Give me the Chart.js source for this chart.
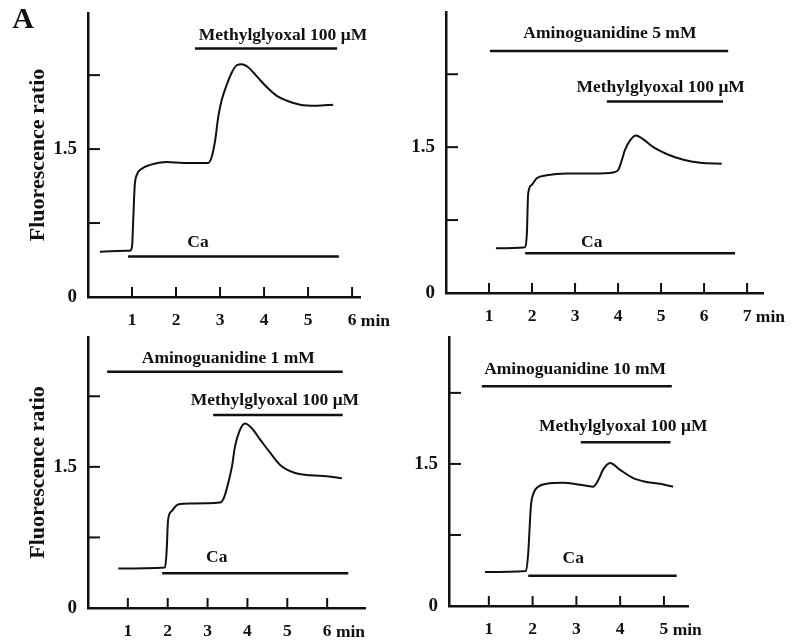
<!DOCTYPE html>
<html>
<head>
<meta charset="utf-8">
<script src="https://cdn.jsdelivr.net/npm/chart.js@4"></script>
<style>
  html, body { margin: 0; padding: 0; background: #fff; }
  #page { position: relative; width: 799px; height: 641px; overflow: hidden; }
  .panel { position: absolute; }
</style>
</head>
<body>
<div id="page">
  <div class="panel" style="left:0;top:0;width:400px;height:340px"><canvas id="c1"></canvas></div>
  <div class="panel" style="left:400px;top:0;width:399px;height:340px"><canvas id="c2"></canvas></div>
  <div class="panel" style="left:0;top:320px;width:400px;height:321px"><canvas id="c3"></canvas></div>
  <div class="panel" style="left:400px;top:320px;width:399px;height:321px"><canvas id="c4"></canvas></div>
</div>
<script>
// traces (time in min, fluorescence ratio)
const time1 = [0.27, 0.95, 1.0, 1.03, 1.06, 1.11, 1.22, 1.41, 1.79, 2.17, 2.55, 2.73, 2.81, 2.89, 2.96, 3.04, 3.15, 3.27, 3.38, 3.49, 3.64, 3.83, 4.06, 4.29, 4.52, 4.82, 5.2, 5.57]
const ratio1 = [0.46, 0.47, 0.51, 0.81, 1.12, 1.24, 1.30, 1.34, 1.37, 1.36, 1.36, 1.36, 1.42, 1.59, 1.83, 2.00, 2.15, 2.28, 2.35, 2.36, 2.33, 2.24, 2.13, 2.04, 1.99, 1.95, 1.94, 1.95]

const time2 = [1.16, 1.84, 1.88, 1.91, 1.99, 2.11, 2.34, 2.81, 3.43, 3.89, 4.01, 4.09, 4.16, 4.28, 4.42, 4.59, 4.82, 5.13, 5.52, 5.91, 6.41]
const ratio2 = [0.46, 0.47, 0.61, 1.02, 1.11, 1.18, 1.21, 1.23, 1.23, 1.24, 1.27, 1.37, 1.47, 1.57, 1.62, 1.58, 1.50, 1.43, 1.37, 1.34, 1.33]

const time3 = [0.76, 1.93, 1.97, 2.01, 2.10, 2.26, 2.55, 3.31, 3.41, 3.52, 3.61, 3.69, 3.80, 3.94, 4.11, 4.32, 4.57, 4.82, 5.16, 5.57, 5.99, 6.37]
const ratio3 = [0.42, 0.43, 0.58, 0.94, 1.03, 1.10, 1.11, 1.12, 1.17, 1.33, 1.50, 1.72, 1.88, 1.96, 1.91, 1.79, 1.65, 1.52, 1.44, 1.41, 1.40, 1.38]

const time4 = [0.91, 1.85, 1.90, 1.96, 2.02, 2.13, 2.32, 2.70, 3.08, 3.38, 3.50, 3.61, 3.77, 3.99, 4.30, 4.60, 4.91, 5.21]
const ratio4 = [0.36, 0.37, 0.56, 1.05, 1.19, 1.26, 1.29, 1.30, 1.28, 1.26, 1.33, 1.44, 1.51, 1.44, 1.35, 1.31, 1.29, 1.26]

// application bars: name, start/end (min), level on the ratio axis
const barNames1 = ['Methylglyoxal 100 μM', 'Ca']
const barStart1 = [2.43, 0.91]
const barEnd1 = [5.66, 5.70]
const barLevel1 = [2.52, 0.41]

const barNames2 = ['Aminoguanidine 5 mM', 'Methylglyoxal 100 μM', 'Ca']
const barStart2 = [1.02, 3.74, 1.84]
const barEnd2 = [6.56, 6.44, 6.72]
const barLevel2 = [2.49, 1.97, 0.41]

const barNames3 = ['Aminoguanidine 1 mM', 'Methylglyoxal 100 μM', 'Ca']
const barStart3 = [0.48, 3.14, 1.86]
const barEnd3 = [6.39, 6.39, 6.53]
const barLevel3 = [2.51, 2.05, 0.37]

const barNames4 = ['Aminoguanidine 10 mM', 'Methylglyoxal 100 μM', 'Ca']
const barStart4 = [0.84, 3.10, 1.90]
const barEnd4 = [5.18, 5.15, 5.29]
const barLevel4 = [2.32, 1.73, 0.32]

// ticks
const xTicks1 = [1, 2, 3, 4, 5, 6]
const xTicks2 = [1, 2, 3, 4, 5, 6, 7]
const xTicks3 = [1, 2, 3, 4, 5, 6]
const xTicks4 = [1, 2, 3, 4, 5]
const yTicks = [0, 0.75, 1.5, 2.25]
const yLabels = ['0', '', '1.5', '']

const INK = '#111'
const SERIF = '"Liberation Serif", "DejaVu Serif", serif'

// draws inward tick marks, the unit after the last x label and the bar captions
const ink = {
    id: 'ink',
    afterDraw(chart, args, opts) {
        const ctx = chart.ctx
        const a = chart.chartArea
        const x = chart.scales.x, y = chart.scales.y
        ctx.save()
        ctx.strokeStyle = INK
        ctx.lineWidth = 2
        x.ticks.forEach(t => {
            const px = x.getPixelForValue(t.value)
            ctx.beginPath(); ctx.moveTo(px, a.bottom); ctx.lineTo(px, a.bottom - 10); ctx.stroke()
        })
        y.ticks.forEach(t => {
            if (t.value === 0) return
            const py = y.getPixelForValue(t.value)
            ctx.beginPath(); ctx.moveTo(a.left, py); ctx.lineTo(a.left + 12, py); ctx.stroke()
        })
        ctx.fillStyle = INK
        ctx.font = 'bold 17.5px ' + SERIF
        ctx.textBaseline = 'middle'
        // "min" after the last tick label
        const last = x.ticks[x.ticks.length - 1]
        const lx = x.getPixelForValue(last.value) + ctx.measureText(String(last.value)).width / 2 + ctx.measureText(' ').width
        ctx.textAlign = 'left'
        ctx.fillText('min', lx, a.bottom + opts.unitDy)
        ctx.textAlign = 'center'
        opts.captions.forEach((c, i) => {
            ctx.fillText(opts.names[i], x.getPixelForValue(c[0]), y.getPixelForValue(c[1]))
        })
        if (opts.letter) {
            ctx.font = 'bold 30px ' + SERIF
            ctx.fillText(opts.letter, 23, 20)
        }
        ctx.restore()
    }
}

function makePanel(id, p) {
    const datasets = [{
        data: p.time.map((t, i) => ({ x: t, y: p.ratio[i] })),
        borderColor: INK,
        borderWidth: 2,
        pointRadius: 0,
        cubicInterpolationMode: 'monotone',
        fill: false
    }]
    p.names.forEach((n, i) => {
        datasets.push({
            data: [{ x: p.start[i], y: p.level[i] }, { x: p.end[i], y: p.level[i] }],
            borderColor: INK,
            borderWidth: 2.5,
            pointRadius: 0,
            fill: false
        })
    })
    new Chart(document.getElementById(id), {
        type: 'line',
        data: { datasets },
        options: {
            responsive: true,
            maintainAspectRatio: false,
            devicePixelRatio: 1,
            animation: false,
            layout: { padding: { top: p.area.top, right: p.area.right, left: 0, bottom: 0 } },
            plugins: {
                legend: { display: false },
                tooltip: { enabled: false },
                ink: { names: p.names, captions: p.captions, letter: p.letter, unitDy: 24 }
            },
            scales: {
                x: {
                    type: 'linear',
                    min: p.xMin, max: p.xMax,
                    afterFit: s => { s.height = p.area.xHeight; s.paddingLeft = 0; s.paddingRight = 0 },
                    afterBuildTicks: s => { s.ticks = p.xTicks.map(v => ({ value: v })) },
                    grid: { display: false, drawTicks: false },
                    border: { display: true, color: INK, width: 2.5 },
                    ticks: {
                        color: INK, padding: 13, autoSkip: false, maxRotation: 0,
                        font: { family: SERIF, size: 17.5, weight: 'bold' },
                        callback: v => String(v)
                    }
                },
                y: {
                    type: 'linear',
                    min: 0, max: p.yMax,
                    afterFit: s => { s.width = p.area.yWidth; s.paddingTop = 0; s.paddingBottom = 0 },
                    afterBuildTicks: s => { s.ticks = yTicks.map(v => ({ value: v })) },
                    grid: { display: false, drawTicks: false },
                    border: { display: true, color: INK, width: 2.5 },
                    ticks: {
                        color: INK, padding: 11, autoSkip: false,
                        font: { family: SERIF, size: 19, weight: 'bold' },
                        callback: v => yLabels[yTicks.indexOf(v)]
                    },
                    title: {
                        display: p.yTitle,
                        text: 'Fluorescence ratio',
                        color: INK,
                        font: { family: SERIF, size: 22, weight: 'bold' },
                        padding: { top: 25, bottom: 0 }
                    }
                }
            }
        },
        plugins: [ink]
    })
}

makePanel('c1', {
    time: time1, ratio: ratio1, names: barNames1, start: barStart1, end: barEnd1, level: barLevel1,
    captions: [[4.43, 2.655], [2.5, 0.557]],
    xTicks: xTicks1, xMin: 0, xMax: 6.18, yMax: 2.88, yTitle: true, letter: 'A',
    area: { top: 13, right: 40, xHeight: 43, yWidth: 88 }
})
makePanel('c2', {
    time: time2, ratio: ratio2, names: barNames2, start: barStart2, end: barEnd2, level: barLevel2,
    captions: [[3.81, 2.668], [4.99, 2.113], [3.39, 0.517]],
    xTicks: xTicks2, xMin: 0, xMax: 7.37, yMax: 2.89, yTitle: false,
    area: { top: 12, right: 36, xHeight: 47, yWidth: 46 }
})
makePanel('c3', {
    time: time3, ratio: ratio3, names: barNames3, start: barStart3, end: barEnd3, level: barLevel3,
    captions: [[3.52, 2.656], [4.69, 2.205], [3.23, 0.539]],
    xTicks: xTicks3, xMin: 0, xMax: 6.95, yMax: 2.88, yTitle: true,
    area: { top: 17, right: 35, xHeight: 33, yWidth: 88 }
})
makePanel('c4', {
    time: time4, ratio: ratio4, names: barNames4, start: barStart4, end: barEnd4, level: barLevel4,
    captions: [[2.97, 2.493], [4.07, 1.894], [2.93, 0.504]],
    xTicks: xTicks4, xMin: 0.09, xMax: 5.55, yMax: 2.84, yTitle: false,
    area: { top: 17, right: 111, xHeight: 35, yWidth: 49 }
})
</script>
</body>
</html>
